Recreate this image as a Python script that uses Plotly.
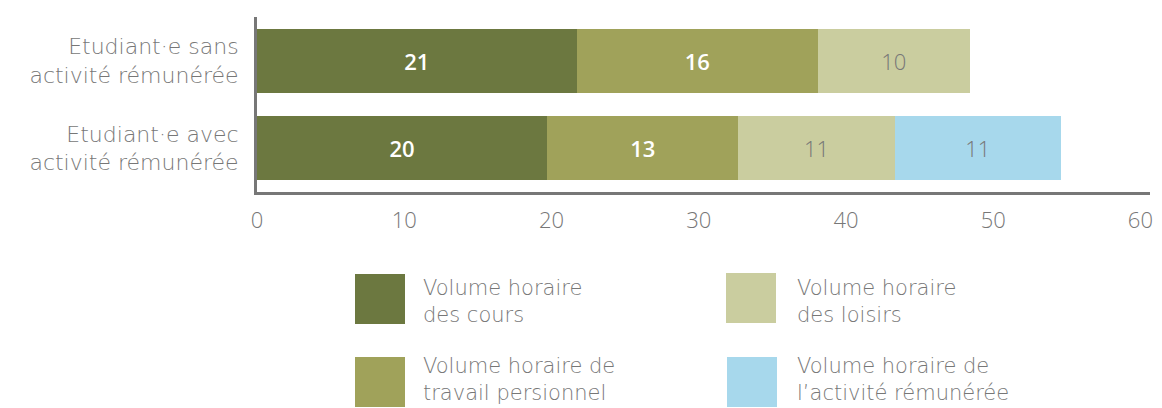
import plotly.graph_objects as go

categories = ["Etudiant·e sans<br>activité rémunérée", "Etudiant·e avec<br>activité rémunérée"]
series_names = [
    "Volume horaire<br>des cours",
    "Volume horaire de<br>travail persionnel",
    "Volume horaire<br>des loisirs",
    "Volume horaire de<br>l’activité rémunérée",
]
cours = [21.7, 19.7]
travail = [16.4, 13.0]
loisirs = [10.3, 10.6]
activite = [None, 11.3]
cours_lbl = ["21", "20"]
travail_lbl = ["16", "13"]
loisirs_lbl = ["10", "11"]
activite_lbl = ["", "11"]
x_ticks = [0, 10, 20, 30, 40, 50, 60]

colors = ["#6C7840", "#A0A25A", "#CACD9F", "#A7D8EC"]
FONT = "Open Sans, Roboto, sans-serif"
LFONT = "DejaVu Sans, Open Sans, sans-serif"
GRAY = "#777777"

fig = go.Figure()
series = [
    (cours, cours_lbl, colors[0], dict(color="white", size=22, family=FONT, weight=600)),
    (travail, travail_lbl, colors[1], dict(color="white", size=22, family=FONT, weight=600)),
    (loisirs, loisirs_lbl, colors[2], dict(color=GRAY, size=22, family=FONT, weight=300)),
    (activite, activite_lbl, colors[3], dict(color=GRAY, size=22, family=FONT, weight=300)),
]
for (vals, lbl, col, tf), name in zip(series, series_names):
    fig.add_trace(go.Bar(
        y=categories, x=vals, orientation="h", name=name,
        marker=dict(color=col, line=dict(width=0)),
        text=lbl, textposition="inside", insidetextanchor="middle",
        textangle=0, constraintext="none", textfont=tf,
        width=0.73, hoverinfo="skip", showlegend=False,
    ))

# The page body adds an 8px offset; geometry below is in screen pixels.
OFF = 8
FW, FH = 1162 - OFF, 408 - OFF
L, R, T, B = 257, 1150, 17, 192
W, H = R - L, B - T

def px(x):
    return (x - L) / W

def py(y):
    return (B - y) / H

shapes = []
annotations = []
label_font = dict(size=22, color=GRAY, family=LFONT, weight=200)
legend_font = dict(size=21, color=GRAY, family=LFONT, weight=200)

# legend: (square x, square y, text x, text centre y)
legend_pos = [(355, 274, 421, 301), (355, 357, 421, 379), (726, 273, 795, 301), (727, 357, 795, 379)]
for (sx, sy, tx, ty), col, name in zip(legend_pos, colors, series_names):
    shapes.append(dict(type="rect", xref="paper", yref="paper",
                       x0=px(sx), x1=px(sx + 50), y0=py(sy), y1=py(sy + 50),
                       fillcolor=col, line=dict(width=0)))
    annotations.append(dict(xref="paper", yref="paper", x=px(tx), y=py(ty),
                            text=name, showarrow=False, xanchor="left", yanchor="middle",
                            align="left", font=legend_font))

fig.update_layout(
    width=FW, height=FH,
    margin=dict(l=L - OFF, r=FW - (R - OFF), t=T - OFF, b=FH - (B - OFF)),
    paper_bgcolor="white", plot_bgcolor="white",
    barmode="stack", bargap=0.27,
    shapes=shapes, annotations=annotations,
    xaxis=dict(range=[0, 60.65], tickvals=x_ticks, showgrid=False, zeroline=False,
               showline=True, linecolor="#777", linewidth=3, ticks="",
               ticklabelstandoff=7,
               tickfont=dict(size=22, color=GRAY, family=FONT, weight=300),
               fixedrange=True),
    yaxis=dict(autorange="reversed", showgrid=False, zeroline=False,
               showline=True, linecolor="#777", linewidth=3, ticks="",
               ticklabelstandoff=11, tickfont=label_font, fixedrange=True),
    font=dict(family=FONT),
)

fig.write_html("out.html")
